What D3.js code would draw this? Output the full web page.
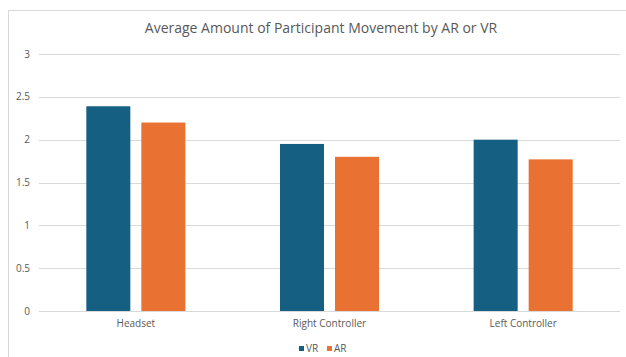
<!DOCTYPE html>
<html>
<head>
<meta charset="utf-8">
<script src="https://cdn.jsdelivr.net/npm/d3@7"></script>
<style>
  body { margin: 0; background: #fff; }
  svg text { font-family: "Open Sans", "Noto Sans", sans-serif; fill: #595959; }
</style>
</head>
<body>
<div id="chart"></div>
<script>
// Data
const categories = ["Headset", "Right Controller", "Left Controller"];
const seriesNames = ["VR", "AR"];
const vrValues = [2.39, 1.95, 2.0];
const arValues = [2.2, 1.8, 1.77];
const yTicks = [0, 0.5, 1, 1.5, 2, 2.5, 3];

const colors = { VR: "#156082", AR: "#E97132" };

const width = 626;
const height = 357;
const margin = { top: 54, right: 6, bottom: 46, left: 39 };

const svg = d3.select("#chart")
  .append("svg")
    .attr("width", width)
    .attr("height", height);

// Chart frame (only the left and top borders are in view)
svg.append("rect")
  .attr("x", 8.5)
  .attr("y", 10.5)
  .attr("width", 640)
  .attr("height", 400)
  .attr("fill", "none")
  .attr("stroke", "#d9d9d9")
  .attr("stroke-width", 1);

// Title
svg.append("text")
  .attr("x", 321)
  .attr("y", 33)
  .attr("text-anchor", "middle")
  .style("font-size", "14px")
  .text("Average Amount of Participant Movement by AR or VR");

const y = d3.scaleLinear()
  .domain([0, 3])
  .range([height - margin.bottom, margin.top]);

const x0 = d3.scaleBand()
  .domain(categories)
  .range([margin.left, width - margin.right])
  .padding(0);

const x1 = d3.scaleBand()
  .domain(seriesNames)
  .range([0, x0.bandwidth()])
  .paddingInner(0.2)
  .paddingOuter(0.86);

// Gridlines and y labels
svg.append("g")
  .selectAll("line")
  .data(yTicks)
  .join("line")
    .attr("x1", margin.left)
    .attr("x2", width - margin.right)
    .attr("y1", d => Math.round(y(d)) + 0.5)
    .attr("y2", d => Math.round(y(d)) + 0.5)
    .attr("stroke", "#d9d9d9")
    .attr("stroke-width", 1);

svg.append("g")
  .selectAll("text")
  .data(yTicks)
  .join("text")
    .attr("x", 30)
    .attr("y", d => y(d))
    .attr("dy", "0.35em")
    .attr("text-anchor", "end")
    .style("font-size", "10px")
    .text(d => d);

// Bars
const rows = categories.map((c, i) => ({ category: c, VR: vrValues[i], AR: arValues[i] }));

svg.append("g")
  .selectAll("g")
  .data(rows)
  .join("g")
    .attr("transform", d => `translate(${x0(d.category)},0)`)
  .selectAll("rect")
  .data(d => seriesNames.map(s => ({ key: s, value: d[s] })))
  .join("rect")
    .attr("x", d => x1(d.key))
    .attr("y", d => y(d.value))
    .attr("width", x1.bandwidth())
    .attr("height", d => y(0) - y(d.value))
    .attr("fill", d => colors[d.key]);

// Category labels
svg.append("g")
  .selectAll("text")
  .data(categories)
  .join("text")
    .attr("x", d => x0(d) + x0.bandwidth() / 2)
    .attr("y", 327)
    .attr("text-anchor", "middle")
    .style("font-size", "10px")
    .text(d => d);

// Legend
const legend = svg.append("g")
  .attr("transform", "translate(299,0)");

const legendItem = legend.selectAll("g")
  .data(seriesNames)
  .join("g")
    .attr("transform", (d, i) => `translate(${i * 28},0)`);

legendItem.append("rect")
  .attr("x", 0)
  .attr("y", 346)
  .attr("width", 5)
  .attr("height", 5)
  .attr("fill", d => colors[d]);

legendItem.append("text")
  .attr("x", 7)
  .attr("y", 352)
  .style("font-size", "10px")
  .text(d => d);
</script>
</body>
</html>
